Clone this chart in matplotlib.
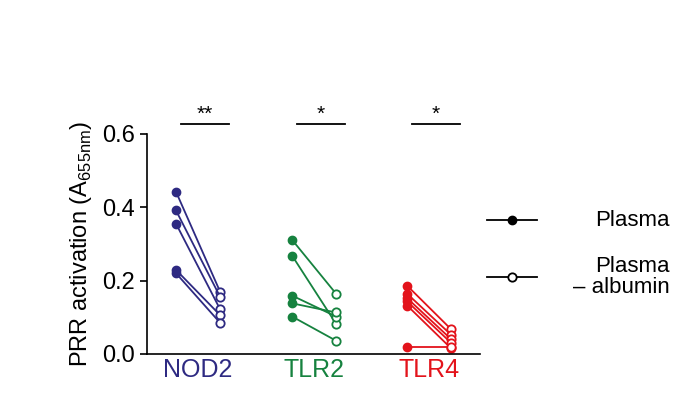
import matplotlib
matplotlib.use("Agg")
import matplotlib.pyplot as plt
from matplotlib.lines import Line2D

plt.rcParams['font.family'] = ['Liberation Sans', 'DejaVu Sans']
plt.rcParams['mathtext.fontset'] = 'custom'
plt.rcParams['mathtext.rm'] = 'Liberation Sans'

categories = ["NOD2", "TLR2", "TLR4"]
colors = ["#2e2a82", "#16823f", "#e3131b"]
plasma = [[0.442, 0.391, 0.355, 0.229, 0.220],
          [0.311, 0.268, 0.159, 0.138, 0.102],
          [0.186, 0.164, 0.152, 0.143, 0.132, 0.020]]
minus_alb = [[0.170, 0.156, 0.122, 0.106, 0.085],
             [0.164, 0.082, 0.102, 0.113, 0.036],
             [0.067, 0.052, 0.040, 0.030, 0.015, 0.020]]
stars = ["**", "*", "*"]
centers = [198, 314, 429]
off = 22

fig = plt.figure(figsize=(7, 4.13), dpi=100)
ax = fig.add_axes([0.21, 0.143, 0.476, 0.533])
for i, c in enumerate(categories):
    for p, m in zip(plasma[i], minus_alb[i]):
        ax.plot([centers[i] - off, centers[i] + off], [p, m], color=colors[i], lw=1.3, clip_on=False)
        ax.plot(centers[i] - off, p, 'o', color=colors[i], ms=6, clip_on=False)
        ax.plot(centers[i] + off, m, 'o', mfc='white', mec=colors[i], mew=1.3, ms=6, clip_on=False)
    ax.plot([centers[i] - 17, centers[i] + 31], [0.627, 0.627], color='black', lw=1.3, clip_on=False)
    ax.text(centers[i] + 7, 0.628, stars[i], ha='center', va='bottom', fontsize=15, clip_on=False)
ax.set_xlim(147, 480)
ax.set_ylim(0, 0.6)
ax.set_yticks([0, 0.2, 0.4, 0.6])
ax.set_yticklabels(["0.0", "0.2", "0.4", "0.6"], fontsize=17)
ax.set_xticks(centers)
ax.set_xticklabels(categories, fontsize=18)
for t, col in zip(ax.get_xticklabels(), colors):
    t.set_color(col)
ax.tick_params(axis='x', length=0, pad=3)
ax.tick_params(axis='y', length=5, width=1.2)
for s in ['top', 'right']:
    ax.spines[s].set_visible(False)
for s in ['left', 'bottom']:
    ax.spines[s].set_linewidth(1.2)
ax.set_ylabel("PRR activation (A$_{\\mathrm{655nm}}$)", fontsize=17, labelpad=6)

# legend
fig.add_artist(Line2D([487/700, 537/700], [1-220/413]*2, color='black', lw=1.3))
fig.add_artist(Line2D([512/700], [1-220/413], marker='o', color='black', ms=6))
fig.add_artist(Line2D([487/700, 537/700], [1-277/413]*2, color='black', lw=1.3))
fig.add_artist(Line2D([512/700], [1-277/413], marker='o', mfc='white', mec='black', mew=1.3, ms=6))
fig.text(670/700, 1-220/413, "Plasma", ha='right', va='center', fontsize=16)
fig.text(670/700, 1-277/413, "Plasma\n– albumin", ha='right', va='center', fontsize=16, multialignment='right', linespacing=0.95)
fig.savefig("out.png", dpi=100)
